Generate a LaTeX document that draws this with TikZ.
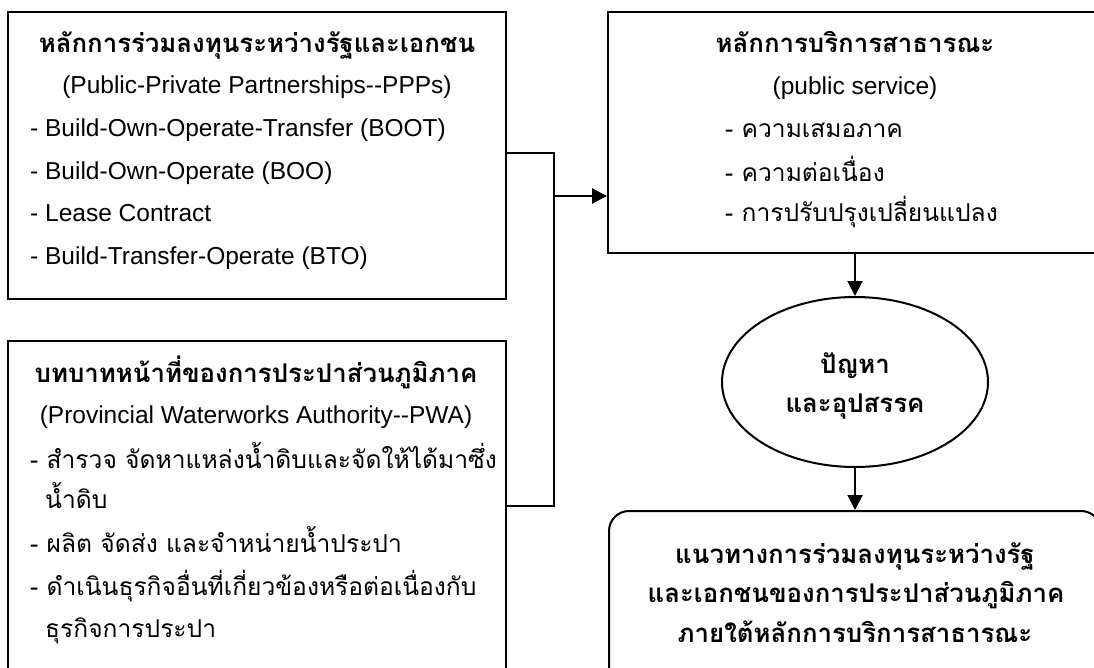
\documentclass[tikz,border=0pt]{standalone}
\usepackage{fontspec}
\setmainfont{Liberation Sans}
\newfontfamily\thai[Script=Thai]{Loma}
\usetikzlibrary{arrows.meta,shapes.geometric}
\begin{document}
\begin{tikzpicture}[x=1pt,y=-1pt,
  box/.style={draw,line width=2pt,rectangle,inner sep=0pt},
  conn/.style={line width=2pt},
  arr/.style={line width=2pt,-{Triangle[length=15pt,width=15pt]}},
  lat/.style={font=\fontsize{24.5}{28}\selectfont,inner sep=0pt},
  th/.style={font=\thai\fontsize{24.6}{28}\selectfont,inner sep=0pt},
  thb/.style={font=\thai\bfseries\fontsize{25.8}{28}\selectfont,inner sep=0pt}]
\useasboundingbox (0,0) rectangle (1094,668);
\clip (0,0) rectangle (1094,668);
% boxes
\node[box,minimum width=498pt,minimum height=287pt] (ppp) at (257,155.5) {};
\node[box,minimum width=498pt,minimum height=340pt] (pwa) at (257,511) {};
\node[box,minimum width=494pt,minimum height=241pt] (ps) at (855,132.5) {};
\node[draw,ellipse,line width=2pt,inner sep=0pt,minimum width=266pt,minimum height=170pt] (prob) at (855,382) {};
\node[box,rounded corners=20pt,minimum width=492pt,minimum height=180pt] (res) at (855,601) {};
% connectors
\coordinate (jt) at (554,153);
\coordinate (jb) at (554,506);
\coordinate (jm) at (554,196);
\draw[conn] (ppp.east |- jt) -- (jt) -- (jb) -- (pwa.east |- jb);
\draw[arr] (jm) -- (ps.west |- jm);
\draw[arr] (ps.south) -- (prob.north);
\draw[arr] (prob.south) -- (res.north);
% texts top-left
\node[thb,anchor=base] (a0) at (257,53) {หลักการร่วมลงทุนระหว่างรัฐและเอกชน};
\node[lat,anchor=base] (a1) at (257,94) {(Public-Private Partnerships-{}-PPPs)};
\node[lat,anchor=base west] (a2) at (30,137) {- Build-Own-Operate-Transfer (BOOT)};
\node[lat,anchor=base west] (a3) at (30,180) {- Build-Own-Operate (BOO)};
\node[lat,anchor=base west] (a4) at (30,222) {- Lease Contract};
\node[lat,anchor=base west] (a5) at (30,265) {- Build-Transfer-Operate (BTO)};
% texts bottom-left
\node[thb,anchor=base] (b0) at (256,382) {บทบาทหน้าที่ของการประปาส่วนภูมิภาค};
\node[lat,anchor=base] (b1) at (256,423) {(Provincial Waterworks Authority-{}-PWA)};
\node[th,anchor=base west] (b2) at (30,468) {- สำรวจ จัดหาแหล่งน้ำดิบและจัดให้ได้มาซึ่ง};
\node[th,anchor=base west] (b3) at (45,508) {น้ำดิบ};
\node[th,anchor=base west] (b4) at (30,552) {- ผลิต จัดส่ง และจำหน่ายน้ำประปา};
\node[th,anchor=base west] (b5) at (30,595) {- ดำเนินธุรกิจอื่นที่เกี่ยวข้องหรือต่อเนื่องกับ};
\node[th,anchor=base west] (b6) at (45,637) {ธุรกิจการประปา};
% texts top-right
\node[thb,anchor=base] (c0) at (855,53) {หลักการบริการสาธารณะ};
\node[lat,anchor=base] (c1) at (855,95) {(public service)};
\node[th,anchor=base west] (c2) at (725,138) {- ความเสมอภาค};
\node[th,anchor=base west] (c3) at (725,182) {- ความต่อเนื่อง};
\node[th,anchor=base west] (c4) at (725,222) {- การปรับปรุงเปลี่ยนแปลง};
% ellipse
\node[thb,anchor=base] (d0) at (855,373) {ปัญหา};
\node[thb,anchor=base] (d1) at (855,412) {และอุปสรรค};
% result
\node[thb,anchor=base] (e0) at (855,563) {แนวทางการร่วมลงทุนระหว่างรัฐ};
\node[thb,anchor=base] (e1) at (856,602) {และเอกชนของการประปาส่วนภูมิภาค};
\node[thb,anchor=base] (e2) at (855,642) {ภายใต้หลักการบริการสาธารณะ};
\end{tikzpicture}
\end{document}
